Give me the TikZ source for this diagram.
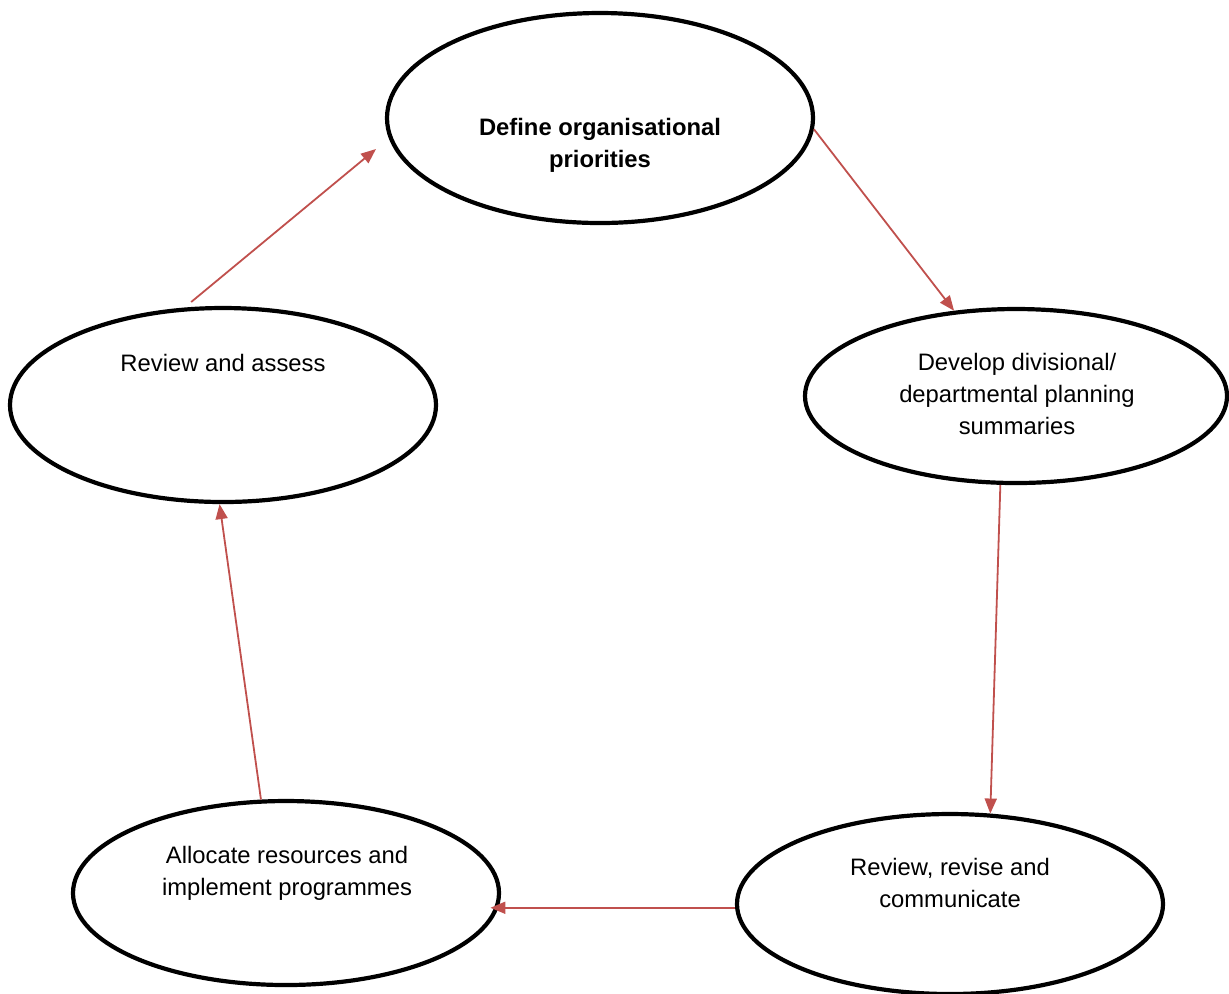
\documentclass[tikz,border=0pt]{standalone}
\usepackage{fontspec}
\setmainfont{Liberation Sans}
\usetikzlibrary{shapes.geometric,arrows.meta}
\definecolor{flowred}{HTML}{C0504D}
\begin{document}
\begin{tikzpicture}[x=0.5pt,y=-0.5pt,
  stage/.style={ellipse,draw=black,line width=2.1pt,fill=white,inner sep=0pt},
  caption/.style={align=center,inner sep=0pt,font=\fontsize{11.9pt}{16pt}\selectfont},
  flow/.style={draw=flowred,line width=0.9pt,-{Triangle[length=7.5pt,width=6pt]}}]
  \useasboundingbox (0,0) rectangle (1229,993);

  % the five stages of the planning cycle
  \node[stage,minimum width=213pt,minimum height=105pt] (define)   at (600,118) {};
  \node[stage,minimum width=211pt,minimum height=87pt]  (develop)  at (1016,396) {};
  \node[stage,minimum width=213pt,minimum height=90pt]  (revise)   at (950,904) {};
  \node[stage,minimum width=213pt,minimum height=92pt]  (allocate) at (286,893) {};
  \node[stage,minimum width=213pt,minimum height=97pt]  (assess)   at (223,405) {};

  % stage captions
  \node[caption,font=\fontsize{11.9pt}{16pt}\selectfont\bfseries] (tdefine) at (600,145)
    {Define organisational\\priorities};
  \node[caption] (tdevelop)  at (1017,394) {Develop divisional/\\departmental planning\\summaries};
  \node[caption] (trevise)   at (950,883)  {Review, revise and\\communicate};
  \node[caption] (tallocate) at (287,873)  {Allocate resources and\\implement programmes};
  \node[caption] (tassess)   at (223,363)  {Review and assess};

  % cycle connectors
  \coordinate (backtip) at (376,149);
  \draw[flow] (define.-3.8)    -- (develop.126.4);
  \draw[flow] (develop.260.4)  -- (revise.66.6);
  \draw[flow,shorten >=-4pt] (revise.181.5) -- (revise.181.5 -| allocate.-4.7);
  \draw[flow] (allocate.105.9) -- (assess.268.2);
  \draw[flow] ([yshift=2.5pt]assess.108.1) -- (backtip);
\end{tikzpicture}
\end{document}
